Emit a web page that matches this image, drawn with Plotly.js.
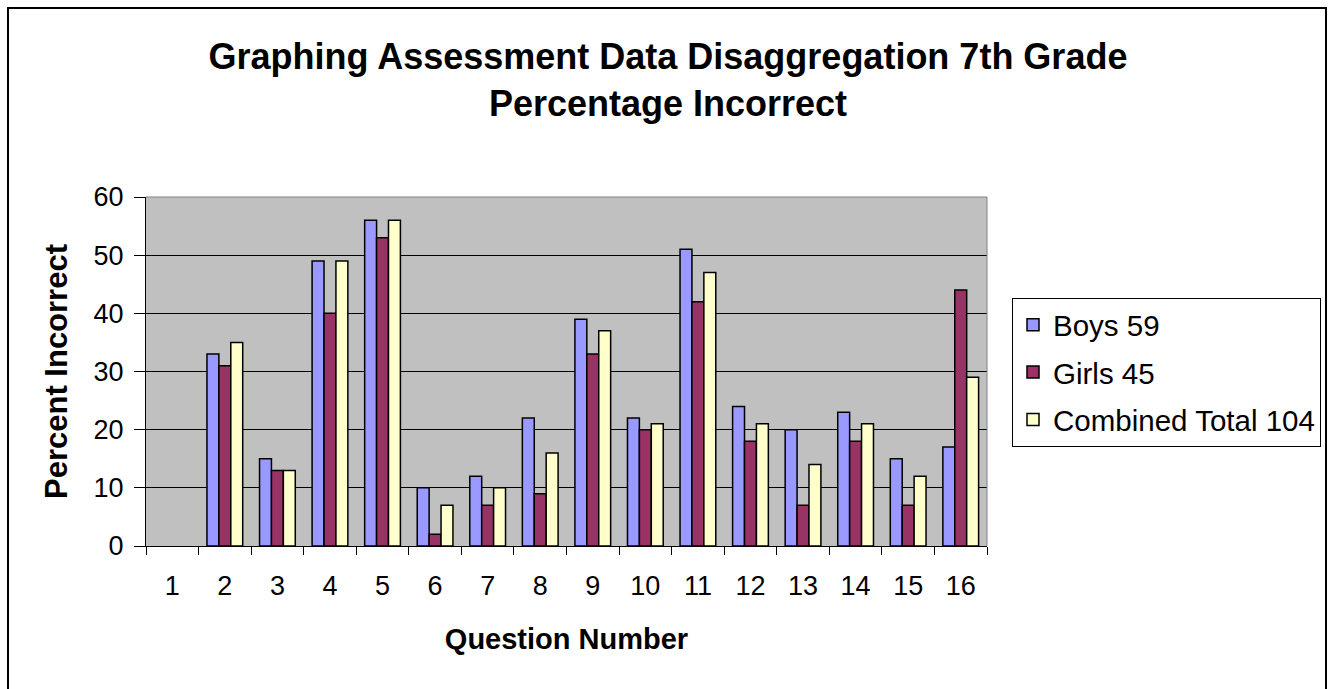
<!DOCTYPE html>
<html>
<head>
<meta charset="utf-8">
<script src="https://cdn.plot.ly/plotly-3.0.1.min.js"></script>
<style>
body{margin:0;padding:0;background:#fff;}
#wrap{position:relative;width:1328px;height:689px;overflow:hidden;}
#chart{position:absolute;left:0;top:0;width:1328px;height:689px;}
#frame{position:absolute;left:7px;top:7px;width:1316px;height:700px;border:2px solid #000;pointer-events:none;}
</style>
</head>
<body>
<div id="wrap"><div id="chart"></div><div id="frame"></div></div>
<script>
const questions = [1,2,3,4,5,6,7,8,9,10,11,12,13,14,15,16];
const boys     = [null,33,15,49,56,10,12,22,39,22,51,24,20,23,15,17];
const girls    = [null,31,13,40,53,2,7,9,33,20,42,18,7,18,7,44];
const combined = [null,35,13,49,56,7,10,16,37,21,47,21,14,21,12,29];
const seriesNames = ['Boys 59','Girls 45','Combined Total 104'];
const colors = ['#9999FF','#993366','#FFFFCC'];

const font = 'Liberation Sans, Arial, sans-serif';
const traces = [boys, girls, combined].map((v,i)=>({
  type:'bar', x:questions, y:v, name:seriesNames[i], legendgroup:'g'+i,
  marker:{color:colors[i], line:{color:'#000', width:1.5}},
  hoverinfo:'x+y'
}));
traces.push({type:'scatter', x:questions, y:questions.map(()=>0), xaxis:'x2', mode:'markers', marker:{opacity:0}, showlegend:false, hoverinfo:'skip'});

const boundaries = [];
for(let i=0;i<=questions.length;i++) boundaries.push(i+0.5);

const layout = {
  width:1328, height:689,
  paper_bgcolor:'#fff', plot_bgcolor:'#C0C0C0',
  margin:{l:146, r:341, t:197, b:143},
  barmode:'group', bargap:0.32, bargroupgap:0,
  title:{text:'<b>Graphing Assessment Data Disaggregation 7th Grade<br>Percentage Incorrect</b>', x:0.503, xanchor:'center', y:0.9, yanchor:'top', font:{family:font, size:36, color:'#000'}},
  font:{family:font, color:'#000'},
  xaxis:{range:[0.5,16.5], tickvals:boundaries, ticktext:boundaries.map(()=>''), ticks:'outside', ticklen:8, tickcolor:'#000', tickwidth:1, showgrid:false, zeroline:false, showline:true, linecolor:'#000', linewidth:1, automargin:false},
  xaxis2:{range:[0.5,16.5], overlaying:'x', side:'bottom', anchor:'y', tickvals:questions, ticktext:questions.map(String), ticks:'outside', ticklen:16, tickcolor:'rgba(0,0,0,0)', showgrid:false, zeroline:false, showline:false, automargin:false, tickfont:{family:font, size:27, color:'#000'},
    title:{text:'<b>Question Number</b>', font:{family:font, size:29, color:'#000'}, standoff:28}},
  yaxis:{range:[0,60], dtick:10, ticks:'outside', ticklen:11, tickcolor:'#000', showgrid:true, gridcolor:'#000', gridwidth:1, zeroline:false, showline:true, linecolor:'#000', linewidth:1, automargin:false, ticklabelstandoff:5,
    tickfont:{family:font, size:27, color:'#000'},
    title:{text:'<b>Percent Incorrect</b>', font:{family:font, size:31, color:'#000'}, standoff:16}},
  legend:{xref:'container', yref:'container', x:1012/1328, xanchor:'left', y:1-298/689, yanchor:'top', bordercolor:'#000', borderwidth:1, bgcolor:'#fff', font:{family:font, size:29.5, color:'#000'}, itemwidth:30, tracegroupgap:6, traceorder:'grouped'},
  shapes:[
    {type:'line', xref:'paper', yref:'paper', x0:0, x1:1, y0:1, y1:1, line:{color:'#808080', width:1}},
    {type:'line', xref:'paper', yref:'paper', x0:1, x1:1, y0:0, y1:1, line:{color:'#808080', width:1}}
  ],
  showlegend:true
};
Plotly.newPlot('chart', traces, layout, {displayModeBar:false});
</script>
</body>
</html>
